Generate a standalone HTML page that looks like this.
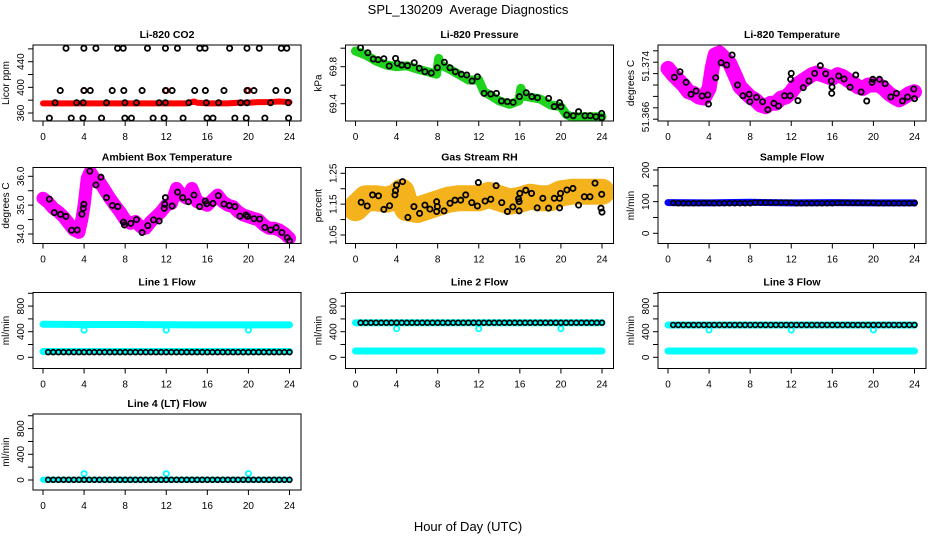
<!DOCTYPE html>
<html><head><meta charset="utf-8"><title>SPL_130209 Average Diagnostics</title>
<style>
html,body{margin:0;padding:0;background:#fff;}
svg{display:block;font-family:"Liberation Sans",Arial,sans-serif;}
.tl{font-size:10px;fill:#000;}
.tt{font-size:10.5px;font-weight:bold;fill:#000;}
</style></head>
<body>
<svg id="chart" width="936" height="540" viewBox="0 0 936 540" xmlns="http://www.w3.org/2000/svg">
<rect x="0" y="0" width="936" height="540" fill="#fff"/>
<text x="468" y="14" text-anchor="middle" font-size="13" xml:space="preserve">SPL_130209  Average Diagnostics</text>
<text x="468" y="531" text-anchor="middle" font-size="13">Hour of Day (UTC)</text>
</svg>
<script>
// ---------- data ----------
const xTicks = [0,4,8,12,16,20,24];

// Li-820 CO2
const co2RedT = [0,1,2,3,4,5,6,7,8,9,10,11,12,13,14,14.7,15,16,17,18,19,20,21,22,23,24];
const co2RedV = [375,375,375,375,375,375,375,375,375,375,375,375,375,375,375,378,376,375,375,375,376,376,377,377,378,377];
const co2RedDotT = [4,12,20];
const co2RedDotV = [395,395,395];
const co2BlackT = [2.24,3.98,5.15,7.26,7.81,10.17,11.92,13.09,15.26,15.78,18.17,19.86,21.06,23.2,23.74,
 1.68,3.98,4.6,6.74,7.87,9.65,11.92,12.57,14.77,15.81,17.62,19.86,20.54,22.67,23.81,
 1.18,3.27,3.92,6.18,7.97,9.1,11.3,11.92,14.19,15.9,17.1,19.24,19.86,22.16,23.88,
 0.62,2.75,3.89,5.7,7.97,8.61,10.72,11.79,13.64,15.97,16.55,18.68,19.79,21.6,23.91];
const co2BlackV = [461,461,461,461,461,461,461,461,461,461,461,461,461,461,461,
 395,395,395,395,395,395,395,395,395,395,395,395,395,395,395,
 376,376,376,376,376,376,376,376,376,376,376,376,376,376,376,
 352,352,352,352,352,352,352,352,352,352,352,352,352,352,352];

// Li-820 Pressure
const presGreenT = [0,1,2,3,4,5,6,7,7.9,8.1,8.3,9,10,11,12,12.5,13,14,15,15.9,16.1,16.4,17,18,19,20,20.5,21,22,23,24];
const presGreenV = [69.97,69.927,69.862,69.818,69.80,69.81,69.775,69.746,69.72,69.89,69.82,69.783,69.72,69.656,69.656,69.53,69.50,69.43,69.394,69.43,69.566,69.48,69.47,69.45,69.386,69.368,69.285,69.26,69.26,69.26,69.26];
const presBlackT = [0.49,1.2,1.73,2.21,2.76,3.28,3.9,4.07,4.5,5.07,5.72,6.21,6.76,7.38,7.97,8.65,9.2,9.72,10.31,10.83,11.35,11.87,12.52,13.17,13.72,14.21,14.79,15.35,15.96,16.62,17.17,17.72,18.8,19.35,19.87,20.0,20.57,21.2,21.72,22.34,22.86,23.41,23.97,23.97];
const presBlackV = [70.005,69.951,69.883,69.876,69.886,69.808,69.89,69.837,69.818,69.811,69.843,69.783,69.746,69.732,69.789,69.848,69.789,69.746,69.718,69.71,69.645,69.692,69.512,69.505,69.512,69.429,69.422,69.415,69.476,69.519,69.476,69.465,69.458,69.368,69.411,69.368,69.278,69.27,69.314,69.27,69.27,69.259,69.296,69.249];

// Li-820 Temperature
const ltMagT = [0,0.5,1,1.5,2,2.5,3,3.5,4,4.3,4.6,5,5.5,6,6.5,7,7.5,8,8.5,9,9.5,10,10.5,11,11.5,12,12.5,13,13.5,14,14.5,15,15.5,16,16.5,17,17.5,18,18.5,19,19.5,20,20.5,21,21.5,22,22.5,23,23.5,24];
const ltMagV = [51.3729,51.3718,51.3709,51.3700,51.3688,51.3685,51.3679,51.3677,51.3694,51.3730,51.3753,51.3756,51.3747,51.3738,51.3718,51.3697,51.3688,51.3679,51.3674,51.3665,51.3662,51.3668,51.3668,51.3677,51.3679,51.3688,51.3700,51.3706,51.3712,51.3718,51.3721,51.3718,51.3715,51.3712,51.3718,51.3715,51.3709,51.3703,51.3697,51.3694,51.3700,51.3700,51.3700,51.3694,51.3685,51.3679,51.3674,51.3679,51.3685,51.3688];
const ltBlackT = [0.62,1.17,1.76,2.24,2.73,3.32,3.87,3.94,4.65,5.17,5.72,6.24,6.77,7.29,7.9,7.97,8.62,9.21,9.72,10.31,10.76,11.35,11.9,11.94,12.0,12.65,13.17,13.72,14.28,14.83,15.35,15.9,15.97,15.94,16.62,17.14,17.73,18.28,18.8,19.35,19.87,19.94,20.59,21.14,21.69,22.24,22.83,23.32,23.93,24.0];
const ltBlackV = [51.37135,51.37233,51.37047,51.36837,51.36895,51.36807,51.36825,51.36667,51.37128,51.37391,51.37351,51.37526,51.37,51.36812,51.36837,51.36707,51.36784,51.36707,51.36567,51.36679,51.36632,51.36812,51.36812,51.371,51.37205,51.36725,51.36953,51.3707,51.37205,51.37339,51.37198,51.3707,51.36965,51.36854,51.37158,51.37105,51.3696,51.37175,51.36877,51.36719,51.37047,51.371,51.371,51.37023,51.3679,51.36854,51.36719,51.3679,51.3693,51.3676];

// Ambient Box Temperature
const ambMagT = [0,0.5,1,1.5,2,2.5,3,3.5,3.8,4,4.3,4.6,5,5.5,6,6.5,7,7.5,8,8.5,9,9.5,10,10.5,11,11.5,12,12.5,13,13.5,14,14.5,15,15.5,16,16.5,17,17.5,18,18.5,19,19.5,20,20.5,21,21.5,22,22.5,23,23.5,24];
const ambMagV = [35.24,35.10,34.89,34.77,34.60,34.37,34.14,34.06,34.54,35.0,35.93,36.16,35.93,35.81,35.53,35.24,35.0,34.77,34.49,34.37,34.43,34.25,34.20,34.43,34.60,34.77,35.0,35.06,35.58,35.35,35.24,35.58,35.12,35.06,35.0,35.18,35.35,35.12,35.0,34.95,34.77,34.66,34.60,34.54,34.49,34.31,34.20,34.20,34.14,34.02,33.85];
const ambBlackT = [0.62,1.1,1.71,2.23,2.78,3.33,3.79,3.92,3.98,4.56,5.15,5.64,6.18,6.76,7.28,7.84,7.93,8.55,9.1,9.65,10.2,10.76,11.31,11.8,11.86,11.92,12.57,13.1,13.6,14.16,14.7,15.25,15.8,15.94,16.55,17.07,17.62,18.14,18.69,19.18,19.76,19.92,20.54,21.1,21.6,22.16,22.7,23.26,23.78,24.0];
const ambBlackV = [35.21,34.74,34.68,34.61,34.13,34.14,34.69,34.89,35.03,36.18,35.70,35.97,35.26,34.99,34.95,34.41,34.31,34.37,34.50,34.05,34.29,34.49,34.45,34.89,35.03,35.26,34.97,35.45,35.26,35.12,35.35,34.95,35.14,35.05,35.06,35.33,35.04,34.99,34.95,34.62,34.66,34.61,34.53,34.52,34.23,34.14,34.22,34.05,33.87,33.76];

// Gas Stream RH
const rhOrT = [0,1,2,3,4,4.5,5,6,7,8,9,10,11,12,13,14,15,16,17,18,19,20,21,22,23,24];
const rhOrV = [1.137,1.169,1.169,1.164,1.174,1.190,1.137,1.131,1.142,1.153,1.164,1.169,1.169,1.169,1.180,1.169,1.158,1.164,1.174,1.169,1.169,1.185,1.190,1.190,1.190,1.190];
const rhBlackT = [0.55,1.14,1.66,2.24,2.76,3.32,3.84,3.9,4.0,4.58,5.1,5.69,6.24,6.76,7.25,7.9,7.97,7.9,8.62,9.2,9.69,10.24,10.73,11.32,11.87,11.96,12.62,13.17,13.69,14.24,14.79,15.32,15.87,15.93,15.93,16.0,16.58,17.14,17.69,18.24,18.8,19.35,19.87,19.96,19.87,20.58,21.17,21.72,22.28,22.83,23.32,23.9,23.97,24.0];
const rhBlackV = [1.156,1.144,1.180,1.177,1.133,1.145,1.180,1.194,1.212,1.223,1.107,1.142,1.120,1.147,1.134,1.158,1.142,1.126,1.128,1.153,1.163,1.163,1.180,1.155,1.144,1.220,1.160,1.166,1.210,1.155,1.126,1.141,1.167,1.158,1.128,1.185,1.195,1.185,1.138,1.169,1.137,1.169,1.169,1.185,1.138,1.196,1.201,1.147,1.174,1.174,1.218,1.137,1.182,1.124];

// Flows (black sampled every half hour)
const flowT = [0.5,1,1.5,2,2.5,3,3.5,4,4.5,5,5.5,6,6.5,7,7.5,8,8.5,9,9.5,10,10.5,11,11.5,12,12.5,13,13.5,14,14.5,15,15.5,16,16.5,17,17.5,18,18.5,19,19.5,20,20.5,21,21.5,22,22.5,23,23.5,24];
const bandT = [0,4,8,12,16,20,24];
const dipT = [4,12,20];
const sampleBlueV = [97,96,98,96,97,96,96];
const sampleBlackV = [96,95,95,95,95,95,96,96,95,95,95,95,95,95,95,95,97,97,97,97,97,97,97,97,95,95,95,95,95,95,95,95,96,96,96,96,96,96,96,96,95,95,95,95,95,95,95,95];
const line1HiV = [515,512,512,508,506,506,506];
const line1DipV = [425,425,425];
const line1LoV = [90,90,90,90,90,90,90];
const line1BlackV = [80,80,80,80,80,80,80,80,80,80,80,80,80,80,80,80,80,80,80,80,80,80,80,80,80,80,80,80,80,80,80,80,80,80,80,80,80,80,80,80,80,80,80,80,80,80,80,80];
const line2HiV = [540,540,540,540,540,540,540];
const line2DipV = [447,447,447];
const line2LoV = [98,98,98,98,98,98,98];
const line2BlackV = [540,540,540,540,540,540,540,540,540,540,540,540,540,540,540,540,540,540,540,540,540,540,540,540,540,540,540,540,540,540,540,540,540,540,540,540,540,540,540,540,540,540,540,540,540,540,540,540];
const line3HiV = [505,505,505,505,505,505,505];
const line3DipV = [426,426,426];
const line3LoV = [98,98,98,98,98,98,98];
const line3BlackV = [505,505,505,505,505,505,505,505,505,505,505,505,505,505,505,505,505,505,505,505,505,505,505,505,505,505,505,505,505,505,505,505,505,505,505,505,505,505,505,505,505,505,505,505,505,505,505,505];
const line4CyanV = [3,3,3,3,3,3,3];
const line4SpikeV = [100,100,100];
const line4BlackV = [3,3,3,3,3,3,3,3,3,3,3,3,3,3,3,3,3,3,3,3,3,3,3,3,3,3,3,3,3,3,3,3,3,3,3,3,3,3,3,3,3,3,3,3,3,3,3,3];

// ---------- drawing ----------
const NS = "http://www.w3.org/2000/svg";
const svg = document.getElementById('chart');
const colsX = [33, 345.5, 658], rowsY = [45, 167.5, 292.5, 414];
const PW = 268, PH = 76;
let clipN = 0;

function mk(tag, attrs, parent){
  const e = document.createElementNS(NS, tag);
  for (const k in attrs) e.setAttribute(k, attrs[k]);
  (parent || svg).appendChild(e);
  return e;
}

function makePanel(cfg){
  const L = colsX[cfg.col], T = rowsY[cfg.row], B = T + PH;
  const g = mk('g', {});
  
  
  const xs = t => L + 10 + t * 246.5 / 24;
  const ys = v => cfg.y1 + (v - cfg.v1) * (cfg.y2 - cfg.y1) / (cfg.v2 - cfg.v1);
  clipN++;
  const cp = mk('clipPath', {id: 'cp' + clipN}, g);
  mk('rect', {x: L, y: T, width: PW, height: PH}, cp);
  const data = mk('g', {'clip-path': 'url(#cp' + clipN + ')'}, g);
  
  
  const tt = mk('text', {x: L + PW / 2, y: T - 7, 'text-anchor': 'middle', class: 'tt'}, g);
  tt.textContent = cfg.title;
  
  
  const box = mk('rect', {x: L, y: T, width: PW, height: PH, fill: 'none', stroke: '#000', 'stroke-width': 1}, g);
  
  
  const xa = mk('g', {}, g);
  
  
  xTicks.forEach(t => {
    mk('line', {x1: xs(t), x2: xs(t), y1: B, y2: B + 5, stroke: '#000'}, xa);
    const lb = mk('text', {x: xs(t), y: B + 19, 'text-anchor': 'middle', class: 'tl'}, xa);
    lb.textContent = t;
    
    
  });
  const ya = mk('g', {}, g);
  
  
  (cfg.tickMarks || cfg.ticks.concat(cfg.minor)).forEach(v => {
    const y = ys(v);
    if (y >= T - 1 && y <= B + 1) mk('line', {x1: L - 5, x2: L, y1: y, y2: y, stroke: '#000'}, ya);
  });
  cfg.ticks.forEach((v, i) => {
    const y = ys(v), x = L - 9;
    const lb = mk('text', {x: x, y: y, 'text-anchor': 'middle', class: 'tl', transform: 'rotate(-90 ' + x + ' ' + y + ')'}, ya);
    lb.textContent = cfg.labels ? cfg.labels[i] : v;
    
    
  });
  const yx = L - 24, yy = T + PH / 2;
  const yl = mk('text', {x: yx, y: yy, 'text-anchor': 'middle', class: 'tl', transform: 'rotate(-90 ' + yx + ' ' + yy + ')'}, g);
  yl.textContent = cfg.ylab;
  
  
  return {g: data, xs: xs, ys: ys};
}

function band(p, T, V, color, w, name){
  const pts = T.map((t, i) => p.xs(t).toFixed(1) + ',' + p.ys(V[i]).toFixed(1)).join(' ');
  const pl = mk('polyline', {points: pts, fill: 'none', stroke: color, 'stroke-width': w, 'stroke-linejoin': 'round', 'stroke-linecap': 'round'}, p.g);
  
  
}

function dots(p, T, V, color, r, sw, name){
  const gg = mk('g', {}, p.g);
  
  
  T.forEach((t, i) => {
    const c = mk('circle', {cx: p.xs(t), cy: p.ys(V[i]), r: r, fill: 'none', stroke: color, 'stroke-width': sw}, gg);
    
    
  });
}

let p = makePanel({name:'co2', title:'Li-820 CO2', ylab:'Licor ppm', col:0, row:0, v1:360, y1:113, v2:440, y2:61.7, ticks:[360,400,440], minor:[380,420,460]});
band(p, co2RedT, co2RedV, '#ff0000', 6, 'co2-red-series');
dots(p, co2RedDotT, co2RedDotV, '#ff0000', 2.6, 1.8, 'co2-red-outliers');
dots(p, co2BlackT, co2BlackV, '#000', 2.6, 1.8, 'co2-black-series');

p = makePanel({name:'pressure', title:'Li-820 Pressure', ylab:'kPa', col:1, row:0, v1:69.4, y1:103.7, v2:69.8, y2:66.7, ticks:[69.4,69.8], minor:[69.6,70.0]});
band(p, presGreenT, presGreenV, '#1ed21e', 9, 'pressure-green-series');
dots(p, presBlackT, presBlackV, '#000', 2.6, 1.8, 'pressure-black-series');

p = makePanel({name:'li820-temp', title:'Li-820 Temperature', ylab:'degrees C', col:2, row:0, v1:51.37, y1:85, v2:51.372, y2:73.6,
  ticks:[51.3644,51.3733], labels:['51.366','51.374'], tickMarks:[51.364,51.366,51.368,51.37,51.372,51.374,51.376], minor:[]});
band(p, ltMagT, ltMagV, '#ff00ff', 15, 'li820-temp-magenta-series');
dots(p, ltBlackT, ltBlackV, '#000', 2.6, 1.8, 'li820-temp-black-series');

p = makePanel({name:'ambient-temp', title:'Ambient Box Temperature', ylab:'degrees C', col:0, row:1, v1:34, y1:234, v2:36, y2:176.3, ticks:[34,35,36], labels:['34.0','35.0','36.0'], minor:[34.5,35.5]});
band(p, ambMagT, ambMagV, '#ff00ff', 13, 'ambient-magenta-series');
dots(p, ambBlackT, ambBlackV, '#000', 2.6, 1.8, 'ambient-black-series');

p = makePanel({name:'gas-rh', title:'Gas Stream RH', ylab:'percent', col:1, row:1, v1:1.05, y1:235, v2:1.25, y2:173.3, ticks:[1.05,1.15,1.25], labels:['1.05','1.15','1.25'], minor:[1.10,1.20]});
band(p, rhOrT, rhOrV, '#f4b21c', 26, 'rh-orange-series');
dots(p, rhBlackT, rhBlackV, '#000', 2.6, 1.8, 'rh-black-series');

p = makePanel({name:'sample-flow', title:'Sample Flow', ylab:'ml/min', col:2, row:1, v1:0, y1:233.3, v2:200, y2:170, ticks:[0,100,200], minor:[50,150]});
band(p, bandT, sampleBlueV, '#0000ff', 7, 'sample-blue-series');
dots(p, flowT, sampleBlackV, '#000', 2.4, 1.7, 'sample-black-series');

const flowCfg = [
  {name:'line1-flow', title:'Line 1 Flow', col:0, row:2, hi:line1HiV, dip:line1DipV, lo:line1LoV, blk:line1BlackV},
  {name:'line2-flow', title:'Line 2 Flow', col:1, row:2, hi:line2HiV, dip:line2DipV, lo:line2LoV, blk:line2BlackV},
  {name:'line3-flow', title:'Line 3 Flow', col:2, row:2, hi:line3HiV, dip:line3DipV, lo:line3LoV, blk:line3BlackV}
];
flowCfg.forEach(c => {
  const q = makePanel({name:c.name, title:c.title, ylab:'ml/min', col:c.col, row:c.row, v1:0, y1:357.3, v2:400, y2:331.7, ticks:[0,400,800], minor:[200,600,1000]});
  band(q, bandT, c.hi, '#00ffff', 7, c.name + '-cyan-high');
  dots(q, dipT, c.dip, '#00ffff', 2.6, 1.8, c.name + '-cyan-dips');
  band(q, bandT, c.lo, '#00ffff', 7, c.name + '-cyan-low');
  dots(q, flowT, c.blk, '#000', 2.4, 1.7, c.name + '-black-series');
});
p = makePanel({name:'line4-flow', title:'Line 4 (LT) Flow', ylab:'ml/min', col:0, row:3, v1:0, y1:480, v2:400, y2:454.3, ticks:[0,400,800], minor:[200,600,1000]});
band(p, bandT, line4CyanV, '#00ffff', 6, 'line4-cyan-series');
dots(p, dipT, line4SpikeV, '#00ffff', 2.6, 1.8, 'line4-cyan-spikes');
dots(p, flowT, line4BlackV, '#000', 2.4, 1.7, 'line4-black-series');
</script>
</body></html>
